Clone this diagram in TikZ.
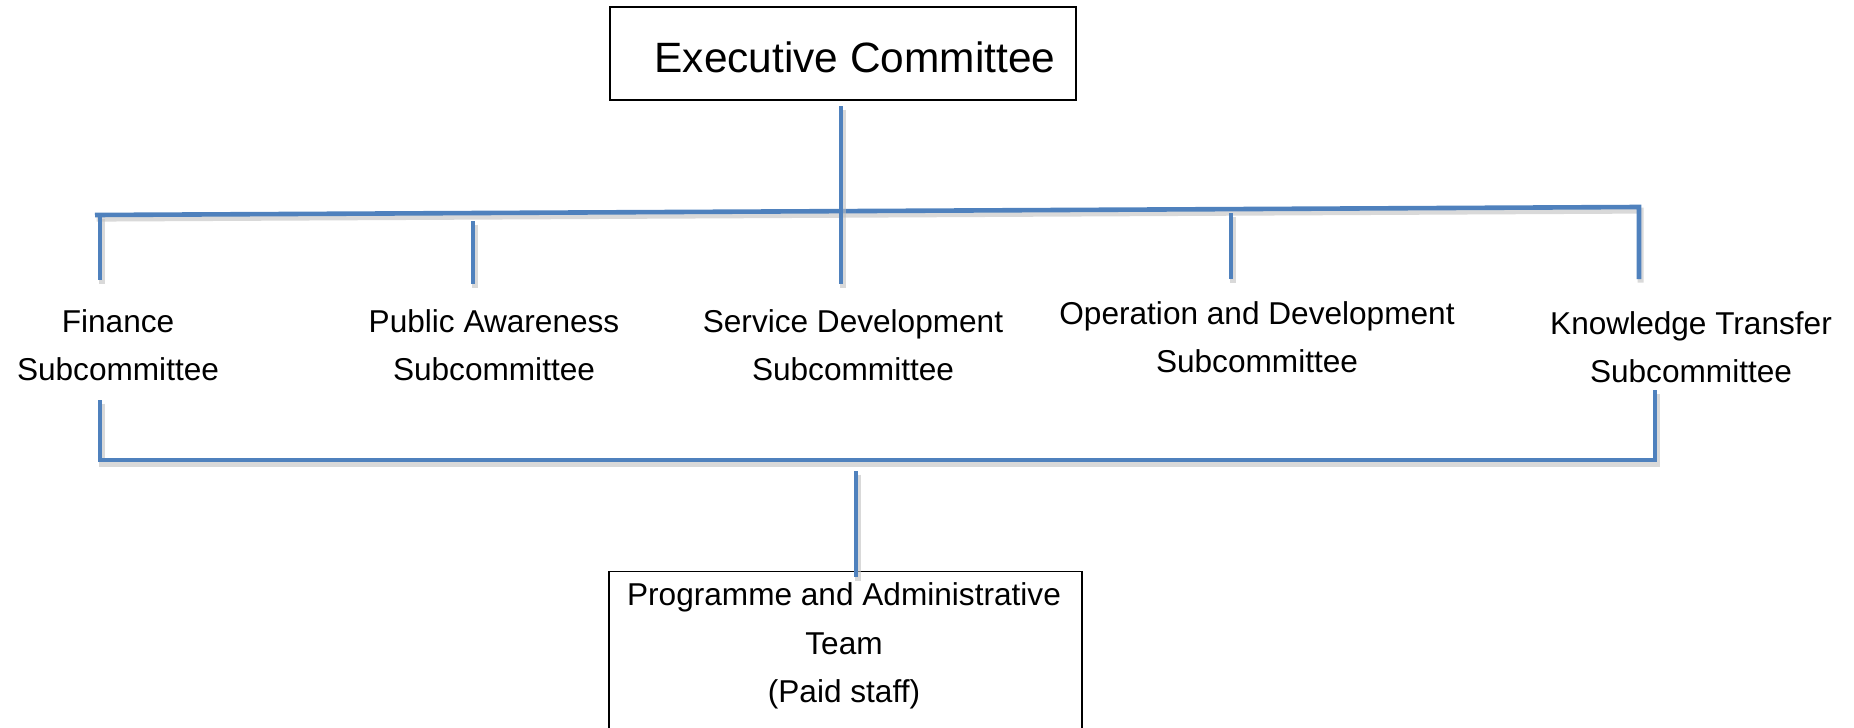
\documentclass[tikz,border=0pt]{standalone}
\usepackage{fontspec}
\setmainfont{Liberation Sans}
\definecolor{ablue}{HTML}{4F81BD}
\begin{document}
\begin{tikzpicture}[x=0.5pt,y=-0.5pt,
  conn/.style={draw=ablue, line width=2.3pt, line join=miter,
    preaction={draw=black!25, line width=3pt, opacity=0.6, transform canvas={xshift=0.8pt,yshift=-1.8pt}}},
  boxnode/.style={draw=black, line width=0.7pt, fill=white, inner sep=0pt},
  lbl/.style={align=center, inner sep=0pt, font=\fontsize{15.8pt}{24.2pt}\selectfont}]
\useasboundingbox (0,0) rectangle (1854,728);
\clip (0,0) rectangle (1854,728);
% nodes
\node[boxnode, minimum width=233pt, minimum height=46.5pt, font=\fontsize{21.2pt}{25pt}\selectfont] (exec) at (843,53.5) {\hspace{12pt}\raisebox{-2pt}[\height][\depth]{Executive Committee}};
\node[lbl] (fin) at (118,345) {Finance\\Subcommittee};
\node[lbl] (pub) at (494,345) {Public Awareness\\Subcommittee};
\node[lbl] (ser) at (853,345) {Service Development\\Subcommittee};
\node[lbl] (ope) at (1257,337) {Operation and Development\\Subcommittee};
\node[lbl] (kno) at (1691,347) {Knowledge Transfer\\Subcommittee};
\node[boxnode, minimum width=236.5pt, minimum height=100pt, anchor=north] (team) at (845.5,571) {};
\node[lbl] (teamtxt) at (844,646) {Programme and Administrative\\Team\\(Paid staff)};
% coordinates
\coordinate (e1) at (841,106);
\coordinate (e2) at (841,284);
\coordinate (tl) at (95,215);
\coordinate (tr) at (1639,207);
\coordinate (kd) at (1639,279);
\coordinate (f1) at (100,215);
\coordinate (f2) at (100,280);
\coordinate (p1) at (473,221);
\coordinate (p2) at (473,284);
\coordinate (o1) at (1231,213);
\coordinate (o2) at (1231,279);
\coordinate (fb1) at (100,400);
\coordinate (fb2) at (100,460);
\coordinate (kb2) at (1655,460);
\coordinate (kb1) at (1655,390);
\coordinate (t1) at (856,471);
\coordinate (t2) at (856,577);
% connectors
\draw[conn] (tl) -- (tr) -- (kd);
\draw[conn] (f1) -- (f2);
\draw[conn] (p1) -- (p2);
\draw[conn] (o1) -- (o2);
\draw[conn] (e1) -- (e2);
\draw[conn] (fb1) -- (fb2) -- (kb2) -- (kb1);
\draw[conn] (t1) -- (t2);
\end{tikzpicture}
\end{document}
